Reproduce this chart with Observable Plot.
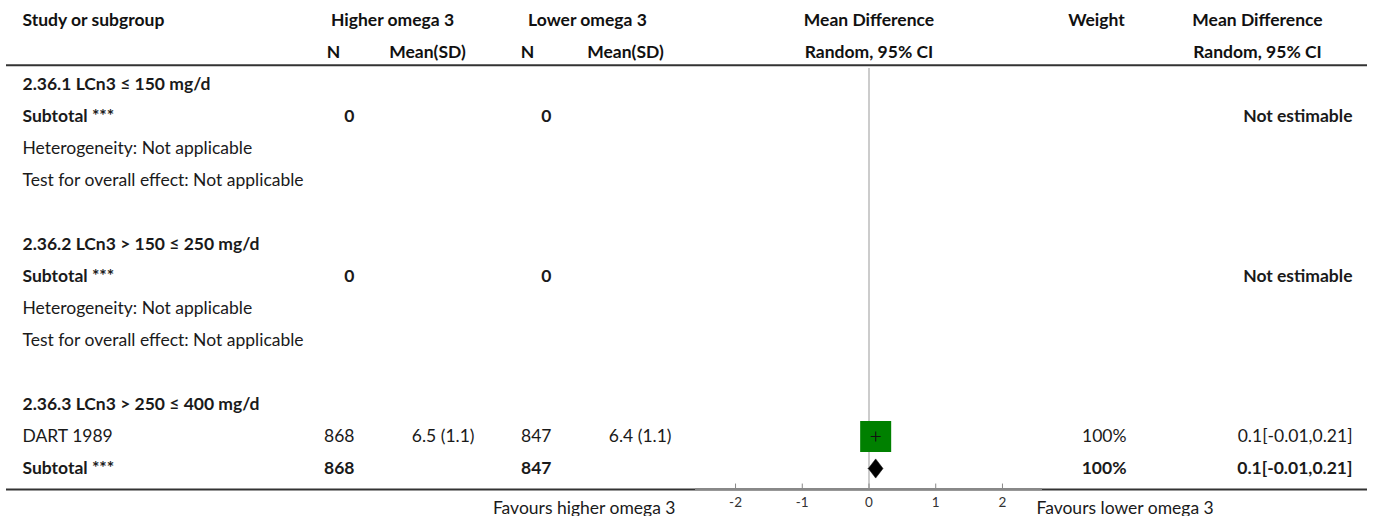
<!DOCTYPE html>
<html>
<head>
<meta charset="utf-8">
<script src="https://cdn.jsdelivr.net/npm/d3@7"></script>
<script src="https://cdn.jsdelivr.net/npm/@observablehq/plot@0.6"></script>
<style>
  html, body { margin: 0; padding: 0; background: #fff; }
  #chart svg { display: block; }
</style>
</head>
<body>
<div id="chart"></div>
<script>
// ---------- data ----------
const groupLabels = ["2.36.1 LCn3 \u2264 150 mg/d", "2.36.2 LCn3 > 150 \u2264 250 mg/d", "2.36.3 LCn3 > 250 \u2264 400 mg/d"];
const studyNames = ["DART 1989"];
const studyGroup = [2];
const nHigher = [868];
const meanHigher = [6.5];
const sdHigher = [1.1];
const nLower = [847];
const meanLower = [6.4];
const sdLower = [1.1];
const studyMD = [0.1];
const studyLo = [-0.01];
const studyHi = [0.21];
const studyWeight = [100];

const subtotalNHigher = [0, 0, 868];
const subtotalNLower = [0, 0, 847];
const subtotalMD = [null, null, 0.1];
const subtotalLo = [null, null, -0.01];
const subtotalHi = [null, null, 0.21];
const subtotalWeight = [null, null, 100];

const hetText = "Heterogeneity: Not applicable";
const testText = "Test for overall effect: Not applicable";

const xTicks = [-2, -1, 0, 1, 2];
const xDomain = [-2.6, 2.6];
const leftLabel = "Favours higher omega 3";
const rightLabel = "Favours lower omega 3";

// ---------- build table rows ----------
const fmtCI = (m, l, h) => `${m}[${l},${h}]`;
const rows = [];
let k = 2;
groupLabels.forEach((g, gi) => {
  rows.push({k: k++, study: g, bold: true});
  studyNames.forEach((s, si) => {
    if (studyGroup[si] !== gi) return;
    rows.push({k: k++, study: s, bold: false,
      n1: String(nHigher[si]), m1: `${meanHigher[si]} (${sdHigher[si]})`,
      n2: String(nLower[si]), m2: `${meanLower[si]} (${sdLower[si]})`,
      w: `${studyWeight[si]}%`, ci: fmtCI(studyMD[si], studyLo[si], studyHi[si]),
      md: studyMD[si], lo: studyLo[si], hi: studyHi[si], kind: "study"});
  });
  const est = subtotalMD[gi] != null;
  rows.push({k: k++, study: "Subtotal ***", bold: true,
    n1: String(subtotalNHigher[gi]), n2: String(subtotalNLower[gi]),
    w: est ? `${subtotalWeight[gi]}%` : "",
    ci: est ? fmtCI(subtotalMD[gi], subtotalLo[gi], subtotalHi[gi]) : "Not estimable",
    md: subtotalMD[gi], lo: subtotalLo[gi], hi: subtotalHi[gi], kind: est ? "subtotal" : "none"});
  if (!est) {
    rows.push({k: k++, study: hetText, bold: false});
    rows.push({k: k++, study: testText, bold: false});
    k++; // blank spacer row
  }
});

const header1 = [
  {label: "Study or subgroup", col: "study"},
  {label: "Higher omega 3", col: "grpHigh"},
  {label: "Lower omega 3", col: "grpLow"},
  {label: "Mean Difference", col: "plot"},
  {label: "Weight", col: "weightH"},
  {label: "Mean Difference", col: "ciH"}
];
const header2 = [
  {label: "N", col: "n1H"},
  {label: "Mean(SD)", col: "m1H"},
  {label: "N", col: "n2H"},
  {label: "Mean(SD)", col: "m2H"},
  {label: "Random, 95% CI", col: "plot"},
  {label: "Random, 95% CI", col: "ciH"}
];

// ---------- layout (pixels) ----------
const W = 1375, H = 516;
const mL = 695, mR = 333, mT = 0, mB = 27;
const rowH = 32, firstRowY = 20;
const yTop = -firstRowY / rowH;
const yBot = (H - mB - firstRowY) / rowH;
const colPos = {
  study:   {a: "left",  dx: 22 - mL,   t: "start"},
  n1:      {a: "left",  dx: 354 - mL,  t: "end"},
  m1:      {a: "left",  dx: 474 - mL,  t: "end"},
  n2:      {a: "left",  dx: 551 - mL,  t: "end"},
  m2:      {a: "left",  dx: 671 - mL,  t: "end"},
  w:       {a: "right", dx: 1126 - (W - mR), t: "end"},
  ci:      {a: "right", dx: 1352 - (W - mR), t: "end"},
  grpHigh: {a: "left",  dx: 392 - mL,  t: "middle"},
  grpLow:  {a: "left",  dx: 587 - mL,  t: "middle"},
  plot:    {a: "top",   dx: 0,         t: "middle"},
  weightH: {a: "right", dx: 1096 - (W - mR), t: "middle"},
  ciH:     {a: "right", dx: 1257 - (W - mR), t: "middle"},
  n1H:     {a: "left",  dx: 333 - mL,  t: "middle"},
  m1H:     {a: "left",  dx: 427 - mL,  t: "middle"},
  n2H:     {a: "left",  dx: 527 - mL,  t: "middle"},
  m2H:     {a: "left",  dx: 625 - mL,  t: "middle"}
};
const FONT = 17.5;
const textColor = "#1a1a1a";

function colText(data, col, field, bold, fill = textColor) {
  const p = colPos[col];
  const opts = {
    y: "k", text: field, textAnchor: p.t, dx: p.dx,
    fontWeight: bold ? "bold" : "normal", fill, fontSize: FONT, lineAnchor: "middle"
  };
  if (p.a === "top") opts.x = () => 0;
  else opts.frameAnchor = p.a;
  return Plot.text(data, opts);
}

const marks = [];
marks.push(Plot.ruleY([1.4], {stroke: "#333", strokeWidth: 2, insetLeft: -(mL - 6), insetRight: -(mR - 8)}));
marks.push(Plot.ruleY([yBot], {stroke: "#333", strokeWidth: 2, insetLeft: -(mL - 6), insetRight: -(mR - 8)}));
marks.push(Plot.ruleY([yBot], {stroke: "#888", strokeWidth: 2, dy: -0.5}));
marks.push(Plot.ruleX([0], {y1: 1.5, y2: yBot, stroke: "#999", strokeWidth: 1}));
marks.push(Plot.ruleX(xTicks, {x: d => d, y1: yBot - 0.17, y2: yBot, stroke: "#888", strokeWidth: 1}));

for (const h of [...header1.map(d => ({...d, k: 0})), ...header2.map(d => ({...d, k: 1}))]) {
  marks.push(colText([h], h.col, "label", true, "#111"));
}

const boldRows = rows.filter(r => r.bold);
const normRows = rows.filter(r => !r.bold);
for (const [data, b] of [[boldRows, true], [normRows, false]]) {
  for (const col of ["study", "n1", "m1", "n2", "m2", "w", "ci"]) {
    const d = data.filter(r => r[col] != null && r[col] !== "");
    if (d.length) marks.push(colText(d, col, col, b));
  }
}

// forest marks
const studyRows = rows.filter(r => r.kind === "study");
marks.push(Plot.dot(studyRows, {x: "md", y: "k", symbol: "square", r: 17.5, fill: "#008000", stroke: "none"}));
marks.push(Plot.dot(studyRows, {x: "md", y: "k", symbol: "plus", r: 3.3, stroke: "#111", strokeWidth: 1.1}));
const subRows = rows.filter(r => r.kind === "subtotal");
const diamondH = 0.3;
const diamondPts = subRows.flatMap((r, i) => [
  {x: r.lo, y: r.k, id: i}, {x: r.md, y: r.k - diamondH, id: i},
  {x: r.hi, y: r.k, id: i}, {x: r.md, y: r.k + diamondH, id: i}, {x: r.lo, y: r.k, id: i}
]);
marks.push(Plot.line(diamondPts, {x: "x", y: "y", z: "id", fill: "#000", stroke: "#000", strokeWidth: 0.5, curve: "linear-closed"}));

marks.push(Plot.axisX({ticks: xTicks, tickSize: 0, tickPadding: 8, fontSize: 13.5, color: "#333", label: null, tickFormat: d => String(d)}));
marks.push(Plot.text([leftLabel], {frameAnchor: "bottom-left", text: d => d, textAnchor: "end", dx: 675 - mL, dy: 19, fontSize: FONT, fill: textColor, lineAnchor: "middle"}));
marks.push(Plot.text([rightLabel], {frameAnchor: "bottom-right", text: d => d, textAnchor: "start", dx: 1036 - (W - mR), dy: 19, fontSize: FONT, fill: textColor, lineAnchor: "middle"}));

const chart = Plot.plot({
  width: W, height: H,
  marginLeft: mL, marginRight: mR, marginTop: mT, marginBottom: mB,
  style: {fontFamily: "Lato, 'Noto Sans', sans-serif", fontSize: FONT + "px", background: "#fff", overflow: "visible"},
  x: {domain: xDomain, axis: null},
  y: {domain: [yTop, yBot], reverse: true, axis: null},
  marks
});
document.getElementById("chart").appendChild(chart);
</script>
</body>
</html>
